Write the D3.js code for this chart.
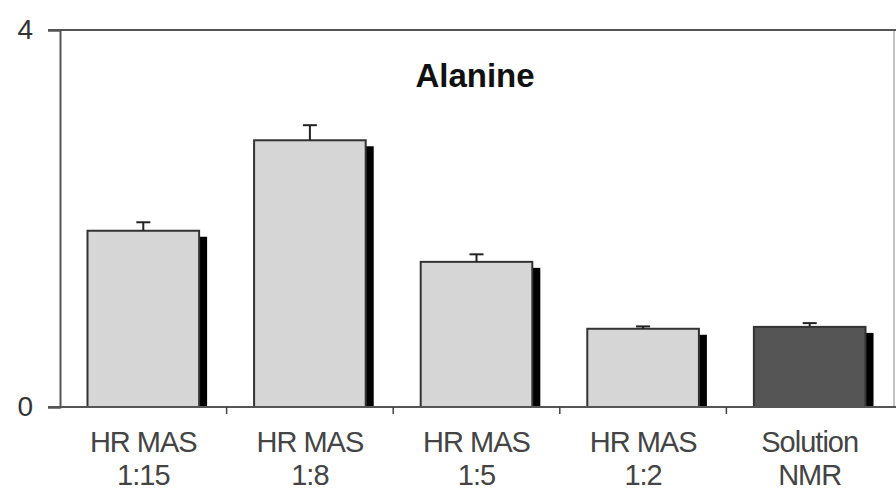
<!DOCTYPE html>
<html>
<head>
<meta charset="utf-8">
<script src="https://cdn.jsdelivr.net/npm/d3@7"></script>
<style>
  body { margin: 0; background: #fff; }
  svg { display: block; font-family: Arial, "Liberation Sans", sans-serif; }
</style>
</head>
<body>
<svg id="chart" width="896" height="491"></svg>
<script>
// 数据
let categories = ["HR MAS|1:15", "HR MAS|1:8", "HR MAS|1:5", "HR MAS|1:2", "Solution|NMR"];
let values = [1.87, 2.83, 1.54, 0.83, 0.85];
let errors = [0.09, 0.16, 0.08, 0.025, 0.04];
let barColors = ["#d6d6d6", "#d6d6d6", "#d6d6d6", "#d6d6d6", "#555555"];
let yTicks = [0, 4];
let title = "Alanine";

function drawChart() {
    let svg = d3.select("#chart");
    let left = 60, right = 893, top = 30, bottom = 407;

    let x = d3.scaleBand()
        .domain(categories)
        .range([left, right])
        .paddingInner(0.33)
        .paddingOuter(0.165);

    let y = d3.scaleLinear()
        .domain([0, 4])
        .range([bottom, top]);

    // 右边框
    svg.append("line")
        .attr("x1", 894).attr("x2", 894)
        .attr("y1", top).attr("y2", bottom)
        .attr("stroke", "#888").attr("stroke-width", 1);

    // 柱子
    let g = svg.selectAll("g.bar")
        .data(categories)
        .enter()
        .append("g")
        .attr("class", "bar");

    // 阴影
    g.append("rect")
        .attr("x", d => x(d) + 8)
        .attr("y", (d, i) => y(values[i]) + 6)
        .attr("width", x.bandwidth())
        .attr("height", (d, i) => bottom - y(values[i]) - 6)
        .attr("fill", "#000");

    g.append("rect")
        .attr("x", d => x(d))
        .attr("y", (d, i) => y(values[i]))
        .attr("width", x.bandwidth())
        .attr("height", (d, i) => bottom - y(values[i]))
        .attr("fill", (d, i) => barColors[i])
        .attr("stroke", "#333")
        .attr("stroke-width", 2);

    // 误差线
    g.append("line")
        .attr("x1", d => x(d) + x.bandwidth() / 2)
        .attr("x2", d => x(d) + x.bandwidth() / 2)
        .attr("y1", (d, i) => y(values[i]))
        .attr("y2", (d, i) => y(values[i] + errors[i]))
        .attr("stroke", "#222").attr("stroke-width", 2);

    g.append("line")
        .attr("x1", d => x(d) + x.bandwidth() / 2 - 7)
        .attr("x2", d => x(d) + x.bandwidth() / 2 + 7)
        .attr("y1", (d, i) => y(values[i] + errors[i]))
        .attr("y2", (d, i) => y(values[i] + errors[i]))
        .attr("stroke", "#222").attr("stroke-width", 2);

    // 顶部线
    svg.append("line")
        .attr("x1", 48).attr("x2", 896)
        .attr("y1", y(4)).attr("y2", y(4))
        .attr("stroke", "#555").attr("stroke-width", 2);

    // x 轴
    svg.append("line")
        .attr("x1", 48).attr("x2", 896)
        .attr("y1", bottom).attr("y2", bottom)
        .attr("stroke", "#555").attr("stroke-width", 2);

    // 分隔刻度
    svg.selectAll("line.sep")
        .data(categories.slice(1))
        .enter()
        .append("line")
        .attr("class", "sep")
        .attr("x1", d => x(d) - x.step() * x.paddingInner() / 2)
        .attr("x2", d => x(d) - x.step() * x.paddingInner() / 2)
        .attr("y1", bottom).attr("y2", bottom + 7)
        .attr("stroke", "#444").attr("stroke-width", 1.5);

    // y 轴
    let yAxis = svg.append("g")
        .attr("transform", "translate(" + left + ",0)")
        .call(d3.axisLeft(y).tickValues(yTicks).tickSize(12).tickFormat(d3.format("d")));
    yAxis.select(".domain").attr("stroke", "#555").attr("stroke-width", 2);
    yAxis.selectAll(".tick line").attr("stroke", "#555").attr("stroke-width", 2);
    yAxis.selectAll(".tick text")
        .attr("x", -27)
        .attr("font-size", 28)
        .attr("fill", "#333")
        .attr("font-family", "Arial, 'Liberation Sans', sans-serif");

    // x 轴标签
    let labels = svg.selectAll("text.xl")
        .data(categories)
        .enter()
        .append("text")
        .attr("class", "xl")
        .attr("text-anchor", "middle")
        .attr("font-size", 29)
        .attr("fill", "#444")
        .attr("letter-spacing", -1);
    labels.each(function (d) {
        let parts = d.split("|");
        let cx = x(d) + x.bandwidth() / 2;
        d3.select(this).append("tspan").attr("x", cx).attr("y", 452).text(parts[0]);
        d3.select(this).append("tspan").attr("x", cx).attr("y", 485).text(parts[1]);
    });

    // 标题
    svg.append("text")
        .attr("x", 475)
        .attr("y", 87)
        .attr("text-anchor", "middle")
        .attr("font-size", 33)
        .attr("font-weight", "bold")
        .attr("fill", "#111")
        .text(title);
}

drawChart();
</script>
</body>
</html>
